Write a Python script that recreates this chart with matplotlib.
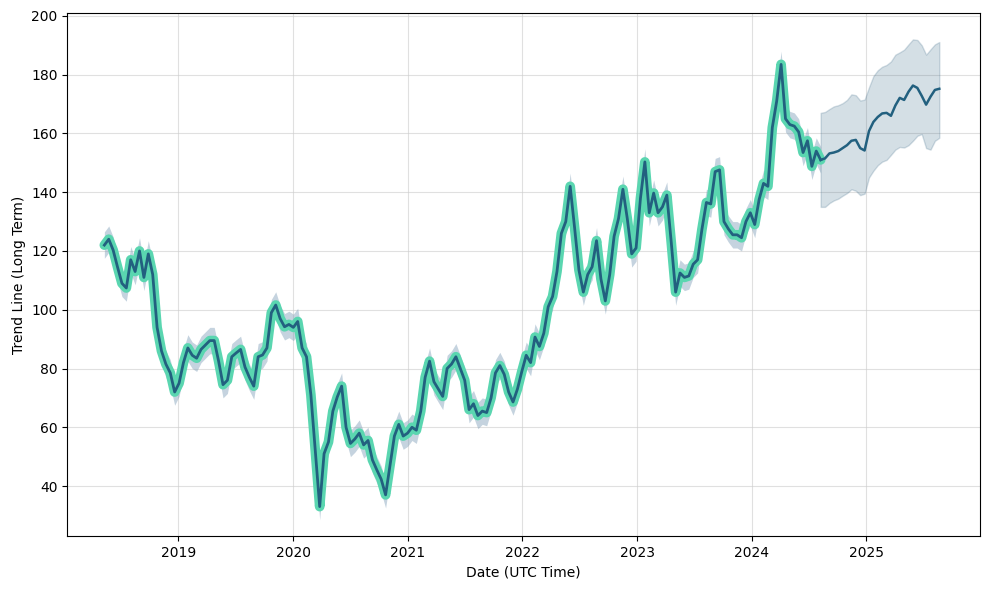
import numpy as np
import pandas as pd
import matplotlib
matplotlib.use('Agg')
import matplotlib.pyplot as plt

# history, one value every 14 days from 2018-05-10
hist_start = '2018-05-10'
hist_values = [
	122, 124, 120.3, 114.5, 109, 107.4, 117, 113, 120, 111,
	119, 112, 94, 86, 81.5, 78.5, 72, 75, 82, 87,
	84.5, 83.5, 86.5, 88, 89.5, 89.5, 82.5, 74.5, 76, 84,
	85.3, 86.5, 80.5, 77, 74, 84, 84.6, 87, 99, 101.6,
	97, 94.2, 95, 94, 96, 87, 84, 71, 52, 33,
	51, 55, 65.5, 70.3, 74, 60, 54.5, 56, 58, 54,
	55.5, 48.9, 45.5, 42.3, 37, 47, 57, 61, 57, 58,
	60, 59, 65.5, 77, 82.5, 75.5, 73, 70.5, 80, 81.5,
	84, 80, 76, 66, 68, 64, 65.5, 65, 70, 78.5,
	81, 78, 72, 68.6, 73, 79, 84.5, 82, 90.7, 87.5,
	92, 101, 104.5, 113, 126, 130, 142, 128, 113.5, 106,
	112, 114.6, 123.5, 110.5, 103, 112, 125, 131, 141, 131,
	119, 121, 138, 150.3, 133, 139.7, 133, 135, 139, 123,
	106, 112.5, 111, 111.5, 115.5, 117, 127.5, 136.5, 136, 147,
	147.6, 130, 127.5, 125.5, 125.5, 124.5, 130, 133, 129, 137.5,
	143, 142, 162, 171, 183.5, 165, 163, 162.5, 160.5, 153.5,
	157.5, 148.8, 154, 151,
]
hist_band = 4.5

# forecast, same 14 day step, starting at the last history point
fc_yhat = [
	151, 151.5, 153.2, 153.5, 154, 155, 156, 157.5, 157.8, 155,
	154.2, 160.8, 163.9, 165.6, 166.8, 167, 166, 169.5, 172.1, 171.4,
	174.2, 176.3, 175.5, 172.8, 169.8, 172.5, 174.8, 175.2,
]
fc_upper = [
	167, 167.3, 168.3, 169.2, 169.6, 170.3, 171.4, 173.3, 173, 171.2,
	171.5, 175.7, 179.5, 181.5, 182.7, 183.3, 184.5, 186.8, 187.6, 188.5,
	190.3, 192, 191.8, 190, 186.8, 188.6, 190.3, 191.1,
]
fc_lower = [
	135, 135, 136.3, 137.2, 137.8, 138.8, 139.7, 141, 140.5, 139,
	139.5, 145, 147.3, 149.2, 150.4, 151, 152.7, 154.5, 155.4, 155.2,
	156, 157.5, 159.2, 159.8, 155, 154.5, 157.5, 158.5,
]

hist_dates = pd.date_range(hist_start, periods = len(hist_values), freq = '14D')
fc_dates = pd.date_range(hist_dates[-1], periods = len(fc_yhat), freq = '14D')
hist = np.array(hist_values)

dark = '#22607f'
green = '#5ad6b0'

fig, ax = plt.subplots(figsize = (9.9, 5.89), dpi = 100)
ax.fill_between(hist_dates, hist - hist_band, hist + hist_band, color = '#7f9fb8', alpha = 0.45, linewidth = 0)
ax.fill_between(fc_dates, fc_lower, fc_upper, color = '#2c5f7f', alpha = 0.2, linewidth = 1)
ax.plot(hist_dates, hist, color = green, linewidth = 7, solid_capstyle = 'round', solid_joinstyle = 'round')
ax.plot(hist_dates, hist, color = dark, linewidth = 2)
ax.plot(fc_dates, fc_yhat, color = dark, linewidth = 1.8)

ax.set_xlim(pd.Timestamp('2018-01-12'), pd.Timestamp('2025-12-29'))
ax.set_ylim(23, 201)
ax.grid(True, color = '#cccccc', alpha = 0.6, linewidth = 0.8)
ax.set_axisbelow(True)
ax.set_xlabel('Date (UTC Time)')
ax.set_ylabel('Trend Line (Long Term)')
plt.subplots_adjust(left = 0.068, right = 0.99, top = 0.978, bottom = 0.09)
plt.savefig('out.png')
